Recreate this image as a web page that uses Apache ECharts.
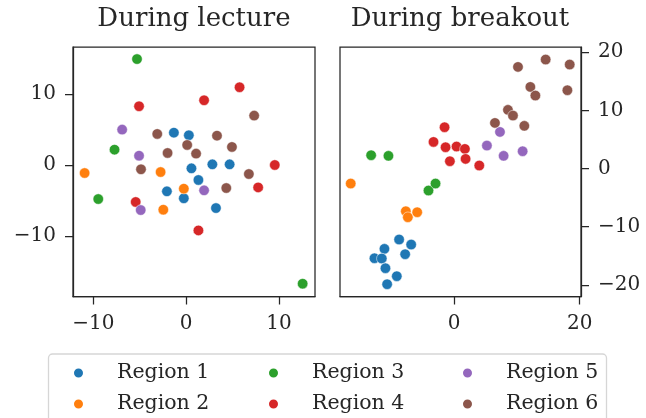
<!DOCTYPE html>
<html><head><meta charset="utf-8">
<script src="https://cdn.jsdelivr.net/npm/echarts@6/dist/echarts.min.js"></script>
<style>html,body{margin:0;padding:0;background:#fff}#c{width:646px;height:418px}</style>
</head><body><div id="c"></div>
<script>
const regionNames = ['Region 1','Region 2','Region 3','Region 4','Region 5','Region 6'];
const panelTitles = ['During lecture','During breakout'];
const colors = ['#1f77b4','#ff7f0e','#2ca02c','#d62728','#9467bd','#8c564b'];
const lectureXTicks = [-10,0,10];
const lectureYTicks = [-10,0,10];
const breakoutXTicks = [0,20];
const breakoutYTicks = [-20,-10,0,10,20];

// During lecture
const lectureRegion1 = [[-1.32,4.55],[0.29,4.18],[0.57,-0.47],[2.82,0.09],[4.68,0.09],[1.32,-2.11],[-2.07,-3.71],[-0.25,-4.69],[3.21,-6.06]];
const lectureRegion2 = [[-10.93,-1.13],[-2.75,-0.99],[-0.25,-3.33],[-2.46,-6.29]];
const lectureRegion3 = [[-5.29,14.9],[-7.71,2.16],[-9.46,-4.79],[12.54,-16.7]];
const lectureRegion4 = [[5.75,10.94],[1.93,9.1],[-5.07,8.26],[9.54,0.0],[7.75,-3.15],[-5.43,-5.2],[1.32,-9.2]];
const lectureRegion5 = [[-6.89,4.98],[-5.07,1.31],[1.93,-3.57],[-4.89,-6.34]];
const lectureRegion6 = [[7.32,6.95],[-3.11,4.37],[3.32,4.13],[4.93,2.54],[0.11,2.82],[-2.0,1.69],[1.07,1.6],[-4.86,-0.61],[6.75,-1.27],[4.32,-3.24]];

// During breakout
const breakoutRegion1 = [[-8.78,-12.2],[-6.86,-13.07],[-11.12,-13.81],[-7.82,-14.73],[-12.71,-15.42],[-11.54,-15.47],[-10.96,-17.13],[-9.15,-18.51],[-10.69,-19.89]];
const breakoutRegion2 = [[-16.49,-2.58],[-7.71,-7.34],[-7.39,-8.37],[-5.9,-7.51]];
const breakoutRegion3 = [[-13.24,2.29],[-10.48,2.18],[-4.1,-3.78],[-2.98,-2.58]];
const breakoutRegion4 = [[-1.54,7.11],[-3.3,4.58],[-1.38,3.67],[0.37,3.78],[1.7,3.38],[-0.69,1.26],[1.81,1.66],[3.99,0.52]];
const breakoutRegion5 = [[5.21,3.95],[7.29,6.3],[7.87,2.18],[10.9,2.98]];
const breakoutRegion6 = [[10.16,17.48],[14.57,18.74],[18.4,17.88],[12.13,14.04],[12.93,12.55],[18.03,13.47],[8.56,10.09],[9.36,9.11],[6.49,7.85],[11.17,7.34]];

const lectureData = [lectureRegion1,lectureRegion2,lectureRegion3,lectureRegion4,lectureRegion5,lectureRegion6];
const breakoutData = [breakoutRegion1,breakoutRegion2,breakoutRegion3,breakoutRegion4,breakoutRegion5,breakoutRegion6];

const FONT = 'DejaVu Serif';
const INK = '#262626';
const fmt = v => String(v).replace('-', '\u2212');

function axis(gridIndex, min, max, ticks, extra) {
  return Object.assign({
    gridIndex, type: 'value', min, max,
    axisLine: {show: true, onZero: false, lineStyle: {color: INK, width: 1.25}},
    axisTick: {show: true, length: 8, customValues: ticks, lineStyle: {color: INK, width: 1.25}},
    axisLabel: {show: true, customValues: ticks, formatter: fmt, color: INK, fontFamily: FONT, fontSize: 20, margin: 17},
    splitLine: {show: false}
  }, extra || {});
}

const series = [];
lectureData.forEach((d, i) => series.push({
  type: 'scatter', name: regionNames[i], xAxisIndex: 0, yAxisIndex: 0, data: d,
  symbolSize: 10.5, itemStyle: {color: colors[i], opacity: 1, borderColor: '#fff', borderWidth: 0.5}
}));
breakoutData.forEach((d, i) => series.push({
  type: 'scatter', name: regionNames[i], xAxisIndex: 1, yAxisIndex: 1, data: d,
  symbolSize: 10.5, itemStyle: {color: colors[i], opacity: 1, borderColor: '#fff', borderWidth: 0.5}
}));

function legend(left, names) {
  return {
    orient: 'vertical', left, top: 362, padding: 0, data: names.map(n => ({name: n, icon: 'circle'})),
    itemWidth: 11, itemHeight: 11, itemGap: 9, selectedMode: false,
    textStyle: {fontFamily: FONT, fontSize: 20.5, color: INK, lineHeight: 22, padding: [0,0,0,28]}
  };
}

const chart = echarts.init(document.getElementById('c'), null, {renderer: 'canvas'});
chart.setOption({
  animation: false,
  backgroundColor: '#fff',
  title: [
    {text: panelTitles[0], left: 194, top: 6, padding: 0, textAlign: 'center', textStyle: {fontFamily: FONT, fontSize: 26, fontWeight: 'normal', color: INK}},
    {text: panelTitles[1], left: 460, top: 6, padding: 0, textAlign: 'center', textStyle: {fontFamily: FONT, fontSize: 26, fontWeight: 'normal', color: INK}}
  ],
  grid: [
    {left: 73, top: 47, width: 242, height: 249.5, show: true, borderColor: INK, borderWidth: 1.25, backgroundColor: 'transparent'},
    {left: 340, top: 47, width: 241, height: 249.5, show: true, borderColor: INK, borderWidth: 1.25, backgroundColor: 'transparent'}
  ],
  xAxis: [
    axis(0, -12.18, 13.87, lectureXTicks, {position: 'bottom'}),
    axis(1, -18.2, 20.2, breakoutXTicks, {position: 'bottom'})
  ],
  yAxis: [
    axis(0, -18.5, 16.6, lectureYTicks, {position: 'left'}),
    axis(1, -22.0, 20.9, breakoutYTicks, {position: 'right'})
  ],
  graphic: [{
    type: 'rect', shape: {x: 48.5, y: 354, width: 558, height: 80, r: 4},
    style: {fill: '#fff', stroke: '#d6d6d6', lineWidth: 1.3}, z: -1
  }],
  legend: [
    legend(72, [regionNames[0], regionNames[1]]),
    legend(267, [regionNames[2], regionNames[3]]),
    legend(461, [regionNames[4], regionNames[5]])
  ],
  series
});
</script></body></html>
